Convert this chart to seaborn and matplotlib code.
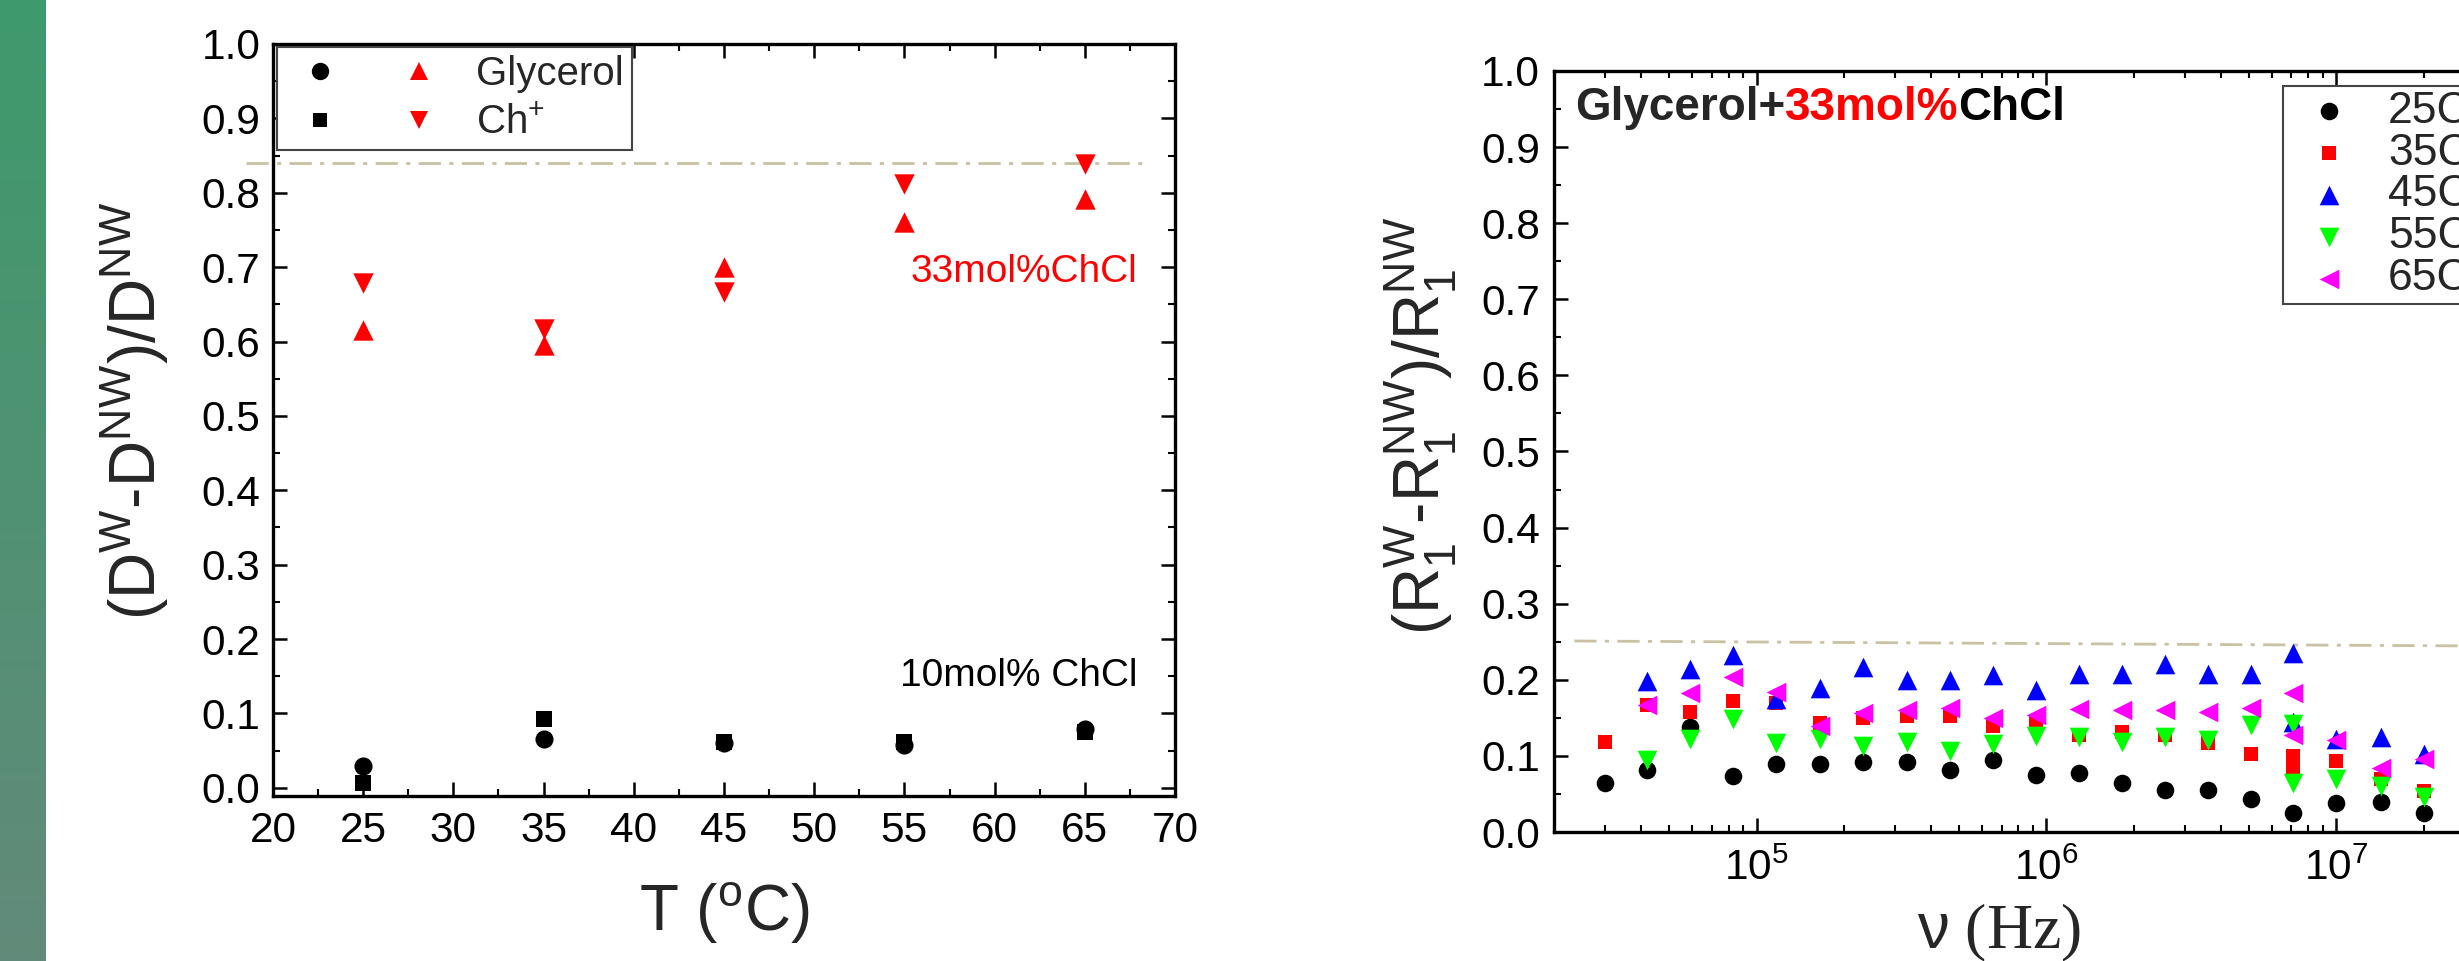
import numpy as np
import matplotlib.pyplot as plt
import seaborn as sns
from matplotlib import font_manager
from matplotlib.lines import Line2D
from matplotlib.legend_handler import HandlerTuple
from matplotlib.colors import LinearSegmentedColormap
from matplotlib.ticker import MultipleLocator, FormatStrFormatter, LogLocator, NullFormatter

# ---- left panel: relative diffusion change vs temperature ----
temps = [25, 35, 45, 55, 65]
gly_10 = [0.029, 0.065, 0.060, 0.058, 0.079]    # circles, 10mol% ChCl
ch_10 = [0.006, 0.092, 0.061, 0.062, 0.075]     # squares, 10mol% ChCl
gly_33 = [0.616, 0.596, 0.700, 0.761, 0.792]    # up triangles, 33mol% ChCl
ch_33 = [0.679, 0.617, 0.666, 0.812, 0.839]     # down triangles, 33mol% ChCl
ref_left = 0.84
ref_left_span = [18.5, 68.4]

# ---- right panel: relative R1 change vs frequency ----
nan = np.nan
freq = [3.0e4, 4.2e4, 5.9e4, 8.3e4, 1.17e5, 1.66e5, 2.33e5, 3.29e5, 4.64e5, 6.55e5,
        9.2e5, 1.29e6, 1.82e6, 2.56e6, 3.61e6, 5.08e6, 7.1e6, 7.1e6, 1.0e7, 1.42e7, 2.0e7]
r1_25 = [0.064, 0.082, 0.138, 0.073, 0.090, 0.090, 0.092, 0.092, 0.082, 0.094,
         0.075, 0.078, 0.065, 0.055, 0.055, 0.043, 0.025, nan, 0.038, 0.040, 0.025]
r1_35 = [0.118, 0.167, 0.158, 0.172, 0.170, 0.143, 0.150, 0.153, 0.152, 0.139,
         0.144, 0.127, 0.131, 0.128, 0.117, 0.103, 0.100, 0.084, 0.093, 0.069, 0.054]
r1_45 = [nan, 0.199, 0.214, 0.233, 0.175, 0.189, 0.217, 0.200, 0.200, 0.206,
         0.186, 0.208, 0.208, 0.221, 0.208, 0.208, 0.235, 0.144, 0.122, 0.125, 0.102]
r1_55 = [nan, 0.095, 0.122, 0.148, 0.117, 0.122, 0.113, 0.118, 0.107, 0.116,
         0.126, 0.125, 0.118, 0.125, 0.121, 0.141, 0.142, 0.065, 0.070, 0.061, 0.046]
r1_65 = [nan, 0.167, 0.183, 0.204, 0.184, 0.139, 0.157, 0.160, 0.163, 0.150,
         0.154, 0.162, 0.160, 0.160, 0.158, 0.163, 0.183, 0.127, 0.121, 0.084, 0.096]
series_labels = ['25C', '35C', '45C', '55C', '65C']
series_colors = ['black', '#ff0000', '#0000ff', '#00ff00', '#ff00ff']
series_markers = ['o', 's', '^', 'v', '<']
series_sizes = [160, 110, 200, 200, 200]
ref_right_x = [2.35e4, 5e7]
ref_right_y = [0.251, 0.244]

sns.set_theme(style='ticks')
plt.rcParams['font.family'] = ['Liberation Sans', 'DejaVu Sans']
plt.rcParams['mathtext.fontset'] = 'custom'
plt.rcParams['mathtext.rm'] = 'Liberation Sans'
plt.rcParams['mathtext.it'] = 'Liberation Sans'
plt.rcParams['mathtext.bf'] = 'Liberation Sans:bold'

# condensed bold for the panel title if the narrow face is installed
narrow_names = {f.name for f in font_manager.fontManager.ttflist}
if 'Liberation Sans Narrow' in narrow_names:
    title_family, title_size = ['Liberation Sans Narrow', 'Liberation Sans'], 40
else:
    title_family, title_size = ['Liberation Sans', 'DejaVu Sans'], 33

TICK_FS = 30.5

fig = plt.figure(figsize=(24.59, 9.61), dpi=100)
fig.patch.set_facecolor('white')

# green strip at the left edge
strip = fig.add_axes([0, 0, 46 / 2459, 1])
grad = np.linspace(0, 1, 256).reshape(-1, 1)
strip_cmap = LinearSegmentedColormap.from_list('strip', ['#3e9a6c', '#628a7a'])
strip.imshow(grad, cmap=strip_cmap, aspect='auto', extent=[0, 1, 1, 0])
strip.axis('off')


def style_axes(ax):
    for sp in ax.spines.values():
        sp.set_linewidth(2.4)
        sp.set_color('black')
    ax.tick_params(which='both', direction='in', top=True, right=True, colors='black')
    ax.tick_params(which='major', length=10, width=1.8, labelsize=TICK_FS)
    ax.tick_params(which='minor', length=5, width=1.5)


# ---- left panel ----
ax1 = fig.add_axes([273 / 2459, 1 - 796 / 961, 902 / 2459, 752 / 961])
sns.scatterplot(x=temps, y=gly_10, ax=ax1, marker='o', color='black', s=170, linewidth=0, zorder=3)
sns.scatterplot(x=temps, y=ch_10, ax=ax1, marker='s', color='black', s=120, linewidth=0, zorder=3)
sns.scatterplot(x=temps, y=gly_33, ax=ax1, marker='^', color='#ff0000', s=215, linewidth=0, zorder=3)
sns.scatterplot(x=temps, y=ch_33, ax=ax1, marker='v', color='#ff0000', s=215, linewidth=0, zorder=3)
ax1.plot(ref_left_span, [ref_left, ref_left], color='#c9c1a2', lw=2, ls=(0, (8, 3, 1.5, 3)),
         clip_on=False, zorder=1)
ax1.set_xlim(20, 70)
ax1.set_ylim(-0.011, 1.0)
ax1.xaxis.set_major_locator(MultipleLocator(5))
ax1.xaxis.set_minor_locator(MultipleLocator(2.5))
ax1.yaxis.set_major_locator(MultipleLocator(0.1))
ax1.yaxis.set_minor_locator(MultipleLocator(0.05))
ax1.yaxis.set_major_formatter(FormatStrFormatter('%.1f'))
style_axes(ax1)
ax1.tick_params(axis='x', which='major', pad=11)
ax1.tick_params(axis='y', which='major', pad=9)
ax1.set_xlabel('T ($^{o}$C)', fontsize=46)
ax1.xaxis.set_label_coords(0.5, -0.156)
ax1.xaxis.label.set_va('center')
ax1.set_ylabel('(D$^{W}$-D$^{NW}$)/D$^{NW}$', fontsize=46)
ax1.yaxis.set_label_coords(-0.153, 0.512)
ax1.yaxis.label.set_va('center')
ax1.text(67.9, 0.694, '33mol%ChCl', color='#ff0000', fontsize=28, ha='right', va='center')
ax1.text(67.9, 0.150, '10mol% ChCl', color='black', fontsize=28, ha='right', va='center')

h_circ = Line2D([], [], marker='o', color='black', ls='none', ms=12.5, mew=0)
h_up = Line2D([], [], marker='^', color='#ff0000', ls='none', ms=13.5, mew=0)
h_sq = Line2D([], [], marker='s', color='black', ls='none', ms=10.5, mew=0)
h_dn = Line2D([], [], marker='v', color='#ff0000', ls='none', ms=13.5, mew=0)
leg1 = ax1.legend([(h_circ, h_up), (h_sq, h_dn)], ['Glycerol', 'Ch$^{+}$'],
                  handler_map={tuple: HandlerTuple(ndivide=None, pad=0.73)},
                  loc='upper left', bbox_to_anchor=(0.004, 0.996), borderaxespad=0,
                  fontsize=29, handlelength=4.2, handletextpad=0.55, borderpad=0.2,
                  labelspacing=0.28, fancybox=False, framealpha=1, edgecolor='#444444')
leg1.get_frame().set_linewidth(1.5)

# ---- right panel ----
ax2 = fig.add_axes([1554 / 2459, 1 - 832 / 961, 985 / 2459, 761 / 961])
r1_series = [r1_25, r1_35, r1_45, r1_55, r1_65]
for vals, lab, col, mk, sz in zip(r1_series, series_labels, series_colors, series_markers, series_sizes):
    sns.scatterplot(x=freq, y=vals, ax=ax2, marker=mk, color=col, s=sz, linewidth=0,
                    label=lab, zorder=3)
ax2.plot(ref_right_x, ref_right_y, color='#c9c1a2', lw=2, ls=(0, (8, 3, 1.5, 3)), zorder=1)
ax2.set_xscale('log')
ax2.set_xlim(2e4, 5e7)
ax2.set_ylim(0, 1.0)
ax2.xaxis.set_major_locator(LogLocator(base=10))
ax2.xaxis.set_minor_locator(LogLocator(base=10, subs=np.arange(2, 10)))
ax2.xaxis.set_minor_formatter(NullFormatter())
ax2.yaxis.set_major_locator(MultipleLocator(0.1))
ax2.yaxis.set_minor_locator(MultipleLocator(0.05))
ax2.yaxis.set_major_formatter(FormatStrFormatter('%.1f'))
style_axes(ax2)
ax2.tick_params(axis='x', which='major', pad=12)
ax2.tick_params(axis='y', which='major', pad=10)
ax2.set_xlabel(r'$\nu$ (Hz)', fontsize=46)
ax2.xaxis.label.set_fontfamily(['Liberation Serif', 'DejaVu Serif'])
ax2.xaxis.set_label_coords(0.452, -0.133)
ax2.xaxis.label.set_va('center')
ax2.set_ylabel('(R$_1^{W}$-R$_1^{NW}$)/R$_1^{NW}$', fontsize=46)
ax2.yaxis.set_label_coords(-0.135, 0.533)
ax2.yaxis.label.set_va('center')

t1 = ax2.text(0.021, 0.951, 'Glycerol+', transform=ax2.transAxes, fontsize=title_size,
              family=title_family, fontweight='bold', va='center', ha='left')
t2 = ax2.annotate('33mol%', xy=(1, 0), xycoords=t1, va='bottom', ha='left',
                  fontsize=title_size, family=title_family, fontweight='bold', color='#ff0000')
t3 = ax2.annotate('ChCl', xy=(1, 0), xycoords=t2, va='bottom', ha='left',
                  fontsize=title_size, family=title_family, fontweight='bold', color='black')

leg2 = ax2.legend(loc='upper left', bbox_to_anchor=(0.740, 0.980), borderaxespad=0,
                  fontsize=32, handlelength=1.86, handletextpad=0.41, borderpad=0.1,
                  labelspacing=0.02, fancybox=False, framealpha=1, edgecolor='#444444')
leg2.get_frame().set_linewidth(1.5)

fig.savefig('out.png', dpi=100, facecolor='white')
